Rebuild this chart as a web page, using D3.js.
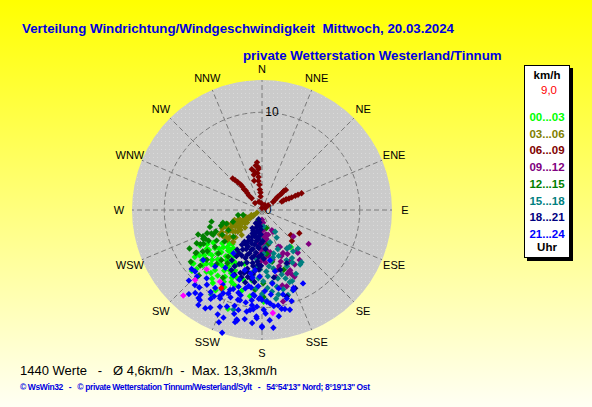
<!DOCTYPE html>
<html>
<head>
<meta charset="utf-8">
<script src="https://cdn.jsdelivr.net/npm/d3@7"></script>
<style>
  html, body { margin: 0; padding: 0; }
  svg { display: block; font-family: "Liberation Sans", Arial, sans-serif; }
  text { white-space: pre; }
</style>
</head>
<body>
<svg width="592" height="407"></svg>
<script>
// compass directions, clockwise from north
var directions = ["N","NNE","NE","ENE","E","ESE","SE","SSE","S","SSW","SW","WSW","W","WNW","NW","NNW"];
var rings = [10];
var speedMax = 13.3;

var hourLabels = ["00...03","03...06","06...09","09...12","12...15","15...18","18...21","21...24"];
var hourColors = ["#00ff00","#808000","#800000","#800080","#008000","#008080","#000080","#0000ff"];

var currentValue = 9.0;          // last reading, km/h
var currentPoint = [207.5, 9.0]; // [direction deg, speed km/h]
var countValues = 1440;
var meanSpeed = 4.6;
var maxSpeed = 13.3;

// readings as [direction in degrees, speed in km/h]
var h00_03 = [
  [232,8.9],[229,9.5],[230,5.3],[219,5.2],[228,6.9],[229,7.7],[219,7.0],[211,6.7],[209,7.8],[199,10.7],
  [208,6.0],[233,6.8],[240,7.3],[230,4.3],[209,5.0],[218,7.8],[208,8.3],[195,7.4],[189,6.5],[142,4.8],
  [188,7.3],[179,9.4],[233,9.0],[214,9.0],[188,8.9],[224,6.0],[236,6.0],[222,8.5],[215,6.3],[226,5.5],
  [213,5.6],[204,6.8],[221,4.6],[234,7.9],[225,7.2],[216,8.7],[203,8.0],[211,5.0],[238,6.6],[227,8.3],
  [220,6.6],[198,5.8],[231,6.2],[206,7.2],[217,4.9],[224,9.6],[212,7.3],[218,6.0],[226,6.4],[223,7.6],
  [231,7.0],[214,8.1],[206,8.8],[228,9.0],[235,8.4],[220,5.4],[205,6.2],[200,7.4],[216,7.0],[230,8.0],
  [224,4.8],[210,9.5],[194,8.5],[222,6.8],[214,6.2],[208,7.0],[226,7.9],[232,7.5],[219,8.3],[212,5.6],
  [204,7.6],[228,5.9],[235,6.9],[200,8.2],[216,5.4],[223,5.2],[210,6.2]
];
var h03_06 = [
  [242,0.6],[238,1.0],[245,1.2],[235,1.4],[242,1.6],[248,1.8],[237,1.9],[230,2.0],[243,2.2],[236,2.4],
  [249,2.5],[240,2.7],[232,2.8],[244,3.0],[238,3.2],[228,3.3],[246,3.4],[241,3.6],[234,3.7],[224,3.9],
  [243,4.0],[238,4.2],[230,4.3],[245,4.5],[241,4.7],[236,4.8],[219,3.3],[224,2.5],[250,3.0],[247,4.1],
  [233,4.6],[240,1.3],[236,1.7],[244,2.0],[239,2.3],[246,2.7],[235,3.0],[241,3.3],[231,3.5],[237,3.9],
  [246,4.3],[229,4.7],[240,5.0],[226,4.1],[233,2.2],[248,3.8],[222,4.4],[227,3.0]
];
var h06_09 = [
  [354,4.9],[355,4.4],[355,4.2],[353,3.8],[346,4.3],[347,3.7],[345,3.1],[354,2.6],[354,2.1],[354,1.4],
  [355,0.7],[0,0.2],[317,4.4],[319,3.8],[320,3.4],[320,3.1],[319,2.8],[319,2.3],[319,1.6],[315,1.0],
  [50,3.2],[49,2.9],[50,2.4],[51,1.9],[54,1.4],[52,0.8],[60,0.4],[67,4.4],[67,3.7],[67,3.3],
  [66,2.7],[67,2.2],[122,4.5],[136,4.4],[131,3.9],[30,0.6],[340,0.9],[354,3.4],[353,3.0],[352,4.6],
  [349,4.0],[318,4.1],[320,2.6],[318,2.0],[50,2.6],[50,2.1],[52,1.7],[67,4.0],[67,3.0],[66,2.4],
  [49,3.0],[355,1.8]
];
var h09_12 = [
  [180,1.0],[175,1.3],[184,1.6],[172,1.9],[179,2.1],[186,2.3],[171,2.5],[177,2.7],[183,2.9],[174,3.1],
  [180,3.3],[187,3.5],[170,3.6],[177,3.8],[183,4.0],[173,4.2],[180,4.4],[186,4.6],[175,4.8],[169,4.4],
  [178,5.0],[182,5.3],[171,3.0],[176,2.0],[154,2.3],[153,2.5],[166,2.6],[156,4.1],[154,4.2],[154,4.9],
  [157,5.1],[152,6.0],[156,6.9],[154,7.6],[167,9.6],[126,5.9],[130,4.2],[143,6.4],[140,5.7],[162,8.2],
  [149,6.5],[155,6.8],[155,7.3],[168,7.0],[140,5.5],[163,6.0],[147,4.7],[160,5.6],[165,8.0],[178,1.6],
  [182,2.5],[174,3.5],[185,3.8],[179,4.1],[172,4.7],[181,4.9],[176,5.4],[168,5.2],[165,6.3],[158,7.0],
  [150,5.2]
];
var h12_15 = [
  [257,5.3],[247,6.1],[237,8.0],[258,2.5],[249,7.0],[243,6.5],[245,5.2],[249,4.5],[249,3.9],[255,2.0],
  [227,4.0],[200,1.1],[237,8.1],[240,6.3],[240,6.9],[243,5.6],[232,6.1],[225,6.3],[216,5.9],[224,9.3],
  [166,1.9],[169,3.5],[169,5.4],[160,6.5],[185,8.2],[179,8.9],[245,5.7],[244,6.7],[243,7.5],[213,6.5],
  [179,7.5],[235,7.4],[230,5.0],[252,4.2],[238,4.8],[220,7.2],[174,4.5],[228,8.5],[210,8.0],[195,6.5],
  [246,6.6],[241,7.2],[252,5.6],[236,5.6],[233,7.0],[228,7.6],[248,3.2],[239,4.0],[219,6.6],[234,9.0],
  [242,8.4]
];
var h15_18 = [
  [175,1.7],[149,2.6],[152,3.2],[143,4.7],[137,5.4],[143,6.7],[159,7.9],[169,8.8],[143,5.3],[154,5.7],
  [163,6.9],[169,6.1],[175,6.8],[169,8.0],[173,8.4],[179,7.3],[182,6.1],[186,5.1],[165,8.4],[163,9.1],
  [165,4.6],[175,3.8],[181,3.1],[147,4.7],[148,5.8],[145,6.8],[157,7.9],[159,8.8],[211,10.1],[196,10.6],
  [207,9.1],[170,5.3],[178,4.5],[160,5.0],[172,7.5],[184,8.0],[166,3.4],[188,6.8],[177,9.3],[156,6.3],
  [173,5.8],[167,7.2],[161,7.4],[176,8.0],[180,8.6],[171,9.2],[150,6.2],[152,7.4],[183,7.0],[176,6.3],
  [167,5.0],[158,4.3],[185,5.8]
];
var h18_21 = [
  [200,1.0],[192,1.3],[205,1.5],[186,1.7],[198,1.9],[208,2.1],[190,2.2],[183,2.5],[202,2.6],[195,2.8],
  [187,3.0],[206,3.1],[199,3.3],[182,3.4],[192,3.6],[209,3.7],[185,3.9],[201,4.0],[195,4.2],[188,4.4],
  [206,4.5],[181,4.6],[198,4.8],[192,5.0],[204,5.1],[185,5.3],[209,5.4],[196,5.6],[189,5.8],[201,5.9],
  [183,6.1],[194,6.2],[206,6.4],[188,6.6],[199,6.8],[192,7.0],[203,7.2],[186,7.4],[211,6.0],[197,3.6],
  [190,4.8],[203,2.3],[184,5.6],[196,6.7],[179,3.2],[178,5.0],[212,4.8],[193,7.6],[164,9.2],[163,6.4],
  [155,6.0],[157,8.7],[170,7.0],[175,4.0],[184,2.0],[194,2.4],[200,2.9],[190,3.2],[204,3.5],[186,3.8],
  [196,4.6],[202,4.3],[184,4.8],[208,5.0],[190,5.5],[199,5.2],[186,6.2],[203,6.0],[193,6.5],[181,5.7],
  [207,6.9],[197,7.2],[189,7.1],[210,4.1],[196,1.6],[188,2.8],[205,3.9],[193,4.1]
];
var h21_24 = [
  [198,13.2],[193.5,11.8],[192.7,11.6],[180,11.9],[174.5,12.1],[213.8,11.7],[207.9,11.3],[199.7,11.7],[150.8,8.6],[164.4,10.6],
  [168.8,10.3],[218.8,10.9],[215.8,11.1],[210,10.5],[205.4,10.0],[193,11.5],[188.6,10.5],[183,9.9],[195.9,8.8],[201.8,8.8],
  [221.8,10.3],[219,9.0],[229.6,7.9],[219.7,7.5],[212.4,7.0],[213.5,5.3],[203.8,7.3],[196,6.4],[190,7.9],[182.8,7.8],
  [193.7,9.5],[186.5,9.3],[181.3,9.0],[199.8,9.5],[195,9.5],[190,9.6],[185,8.8],[182,9.1],[180,9.2],[158.6,8.8],
  [166,8.9],[167,10.4],[173,9.9],[175,9.6],[183,10.9],[180,12.0],[182,6.8],[186,8.7],[177,9.4],[186.7,6.2],
  [168,6.4],[171,5.2],[209,10.1],[203.5,10.8],[206,9.8],[214.6,11.2],[227.4,9.3],[224.4,9.5],[216.4,9.5],[182.8,11.1],
  [186.8,10.3],[193.3,10.5],[170.4,9.9],[164.4,9.4],[158,8.6],[198,7.5],[192,8.2],
  [188,7.0],[208,8.6],[202,9.2],[196,10.2],[211,9.3],[185,10.2],[178,8.3],[172,7.6],
  [200,10.5],[190,6.6],[195,11.0],[189,11.3],[185,11.6],[203,11.6],[210,11.6],[201,12.3],[176,11.3],
  [171,11.0],[178,10.6],[219,10.2],[226,10.4],[221,11.4],[197,8.2],[186,9.8],[179,10.2],[162,9.8],
  [168,8.2],[174,8.7],[205,9.4],[212,9.9],[216,10.7],[230,9.4],[188,8.0],[194,9.0],[200,8.6]
];
var extraPoints = [[222.6,11.9],[223.7,9.9],[174,10.6],[210.4,8.5],[223,8.3]];

var hourData = [h00_03, h03_06, h06_09, h09_12, h12_15, h15_18, h18_21, h21_24];

var width = 592, height = 407;
var cx = 262, cy = 210, radius = 130;

var svg = d3.select("svg");
var defs = svg.append("defs");

var grad = defs.append("linearGradient")
  .attr("id", "bg").attr("x1", 0).attr("y1", 0).attr("x2", 0).attr("y2", 1);
grad.append("stop").attr("offset", "0%").attr("stop-color", "#ffff00");
grad.append("stop").attr("offset", "100%").attr("stop-color", "#fffff4");

var pat = defs.append("pattern")
  .attr("id", "dots").attr("width", 4).attr("height", 4)
  .attr("patternUnits", "userSpaceOnUse");
pat.append("rect").attr("width", 4).attr("height", 4).attr("fill", "#cbcbcb");
pat.append("rect").attr("x", 1).attr("y", 1).attr("width", 1).attr("height", 1).attr("fill", "#dadada");

svg.append("rect").attr("width", width).attr("height", height).attr("fill", "url(#bg)");

var rScale = d3.scaleLinear().domain([0, speedMax]).range([0, radius]);
var aScale = d3.scaleLinear().domain([0, 360]).range([0, 2 * Math.PI]);

function toXY(d) {
  var p = d3.pointRadial(aScale(d[0]), rScale(d[1]));
  return [cx + p[0], cy + p[1]];
}

var chart = svg.append("g");

chart.append("circle")
  .attr("cx", cx).attr("cy", cy).attr("r", rScale(speedMax))
  .attr("fill", "url(#dots)");

// spokes
chart.selectAll(".spoke")
  .data(directions)
  .enter().append("line")
  .attr("class", "spoke")
  .attr("x1", cx).attr("y1", cy)
  .attr("x2", function(d, i) { return toXY([i * 22.5, speedMax])[0]; })
  .attr("y2", function(d, i) { return toXY([i * 22.5, speedMax])[1]; })
  .attr("stroke", "#7a7a7a")
  .attr("stroke-width", 1)
  .attr("stroke-dasharray", "5,3");

chart.selectAll(".ring")
  .data(rings)
  .enter().append("circle")
  .attr("class", "ring")
  .attr("cx", cx).attr("cy", cy)
  .attr("r", function(d) { return rScale(d); })
  .attr("fill", "none")
  .attr("stroke", "#7a7a7a")
  .attr("stroke-dasharray", "5,3");

// direction labels
chart.selectAll(".dir")
  .data(directions)
  .enter().append("text")
  .attr("class", "dir")
  .attr("x", function(d, i) { return cx + d3.pointRadial(aScale(i * 22.5), radius + 13)[0]; })
  .attr("y", function(d, i) { return cy + d3.pointRadial(aScale(i * 22.5), radius + (i === 0 ? 11 : 13))[1]; })
  .attr("text-anchor", "middle")
  .attr("dy", "0.35em")
  .attr("font-size", 11)
  .attr("fill", "#000")
  .text(function(d) { return d; });

chart.selectAll(".ringLabel")
  .data(rings)
  .enter().append("text")
  .attr("x", cx + 10)
  .attr("y", function(d) { return cy - rScale(d); })
  .attr("dy", "0.35em")
  .attr("text-anchor", "middle")
  .attr("font-size", 12)
  .text(function(d) { return d; });

chart.append("text")
  .attr("x", cx + 6).attr("y", cy).attr("dy", "0.35em")
  .attr("text-anchor", "middle").attr("font-size", 12)
  .text("0");

// points, drawn hour group after hour group
var diamond = "M0,-3.2L3.2,0L0,3.2L-3.2,0Z";

hourData.forEach(function(group, gi) {
  chart.append("g").selectAll("path")
    .data(group)
    .enter().append("path")
    .attr("d", diamond)
    .attr("transform", function(d) { return "translate(" + toXY(d) + ")"; })
    .attr("fill", hourColors[gi]);
});

chart.append("g").selectAll("path")
  .data(extraPoints)
  .enter().append("path")
  .attr("d", diamond)
  .attr("transform", function(d) { return "translate(" + toXY(d) + ")"; })
  .attr("fill", "#ff00ff");

chart.append("path")
  .attr("d", diamond)
  .attr("transform", "translate(" + toXY(currentPoint) + ")")
  .attr("fill", "#ff0000");

// titles
svg.append("text")
  .attr("x", 22).attr("y", 33)
  .attr("font-size", 13.3).attr("font-weight", "bold").attr("fill", "#0000e0")
  .text("Verteilung Windrichtung/Windgeschwindigkeit  Mittwoch, 20.03.2024");

svg.append("text")
  .attr("x", 243).attr("y", 59.5)
  .attr("font-size", 13.3).attr("font-weight", "bold").attr("fill", "#0000e0")
  .text("private Wetterstation Westerland/Tinnum");

// legend
var legend = svg.append("g");
legend.append("rect").attr("x", 527).attr("y", 68).attr("width", 46).attr("height", 193).attr("fill", "#000");
legend.append("rect").attr("x", 524.5).attr("y", 65.5).attr("width", 45).attr("height", 192)
  .attr("fill", "#fff").attr("stroke", "#000");

legend.append("text").attr("x", 547).attr("y", 79)
  .attr("text-anchor", "middle").attr("font-size", 11.5).attr("font-weight", "bold")
  .text("km/h");
legend.append("text").attr("x", 549).attr("y", 94)
  .attr("text-anchor", "middle").attr("font-size", 11.5).attr("fill", "#ff0000")
  .text(d3.format(".1f")(currentValue).replace(".", ","));

legend.selectAll(".lg")
  .data(hourLabels)
  .enter().append("text")
  .attr("class", "lg")
  .attr("x", 547)
  .attr("y", function(d, i) { return 121 + i * 16.7; })
  .attr("text-anchor", "middle")
  .attr("font-size", 11.5).attr("font-weight", "bold")
  .attr("fill", function(d, i) { return hourColors[i]; })
  .text(function(d) { return d; });

legend.append("text").attr("x", 547).attr("y", 251)
  .attr("text-anchor", "middle").attr("font-size", 11.5).attr("font-weight", "bold")
  .text("Uhr");

// footer
var fmt = function(v) { return d3.format(".1f")(v).replace(".", ","); };
svg.append("text")
  .attr("x", 20).attr("y", 374.5)
  .attr("font-size", 13).attr("fill", "#000")
  .text(countValues + " Werte   -   Ø " + fmt(meanSpeed) + "km/h  -  Max. " + fmt(maxSpeed) + "km/h");

svg.append("text")
  .attr("x", 20).attr("y", 390)
  .attr("font-size", 8.5).attr("font-weight", "bold").attr("fill", "#0000e0")
  .attr("textLength", 350).attr("lengthAdjust", "spacing")
  .text("© WsWin32   -   © private Wetterstation Tinnum/Westerland/Sylt   -   54°54'13'' Nord; 8°19'13'' Ost");
</script>
</body>
</html>
